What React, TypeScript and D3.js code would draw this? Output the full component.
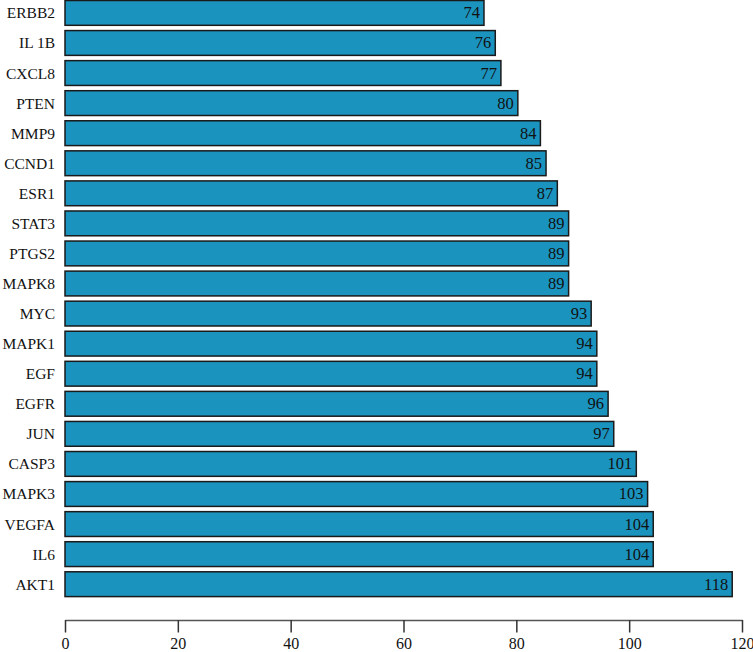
import React, { useEffect, useRef } from "react";
import * as d3 from "d3";

const genes = [
  "ERBB2", "IL 1B", "CXCL8", "PTEN", "MMP9", "CCND1", "ESR1", "STAT3", "PTGS2", "MAPK8",
  "MYC", "MAPK1", "EGF", "EGFR", "JUN", "CASP3", "MAPK3", "VEGFA", "IL6", "AKT1",
];
const degrees = [74, 76, 77, 80, 84, 85, 87, 89, 89, 89, 93, 94, 94, 96, 97, 101, 103, 104, 104, 118];
const xTicks = [0, 20, 40, 60, 80, 100, 120];

const App = () => {
  const ref = useRef<SVGSVGElement>(null);

  useEffect(() => {
    const svg = d3.select(ref.current);
    svg.selectAll("*").remove();
    const font = "'Liberation Serif', 'Times New Roman', serif";

    const x = d3.scaleLinear().domain([0, 120]).range([65, 742]);
    const y = d3
      .scaleBand()
      .domain(genes)
      .range([0.5, 596.6])
      .paddingInner(0.175)
      .paddingOuter(0);

    const data = genes.map((g, i) => ({ gene: g, value: degrees[i] }));

    svg
      .selectAll(".bar")
      .data(data)
      .join("rect")
      .attr("class", "bar")
      .attr("x", x(0))
      .attr("y", (d) => y(d.gene)!)
      .attr("width", (d) => x(d.value) - x(0) + 1.5)
      .attr("height", y.bandwidth())
      .attr("fill", "#1b93bf")
      .attr("stroke", "#1a1a1a")
      .attr("stroke-width", 1.5);

    svg
      .selectAll(".val")
      .data(data)
      .join("text")
      .attr("class", "val")
      .attr("x", (d) => x(d.value) - 2.5)
      .attr("y", (d) => y(d.gene)! + y.bandwidth() / 2 + 5.5)
      .attr("text-anchor", "end")
      .attr("font-family", font)
      .attr("font-size", 16.5)
      .attr("fill", "#111")
      .text((d) => d.value);

    svg
      .selectAll(".cat")
      .data(data)
      .join("text")
      .attr("class", "cat")
      .attr("x", 55)
      .attr("y", (d) => y(d.gene)! + y.bandwidth() / 2 + 5.5)
      .attr("text-anchor", "end")
      .attr("font-family", font)
      .attr("font-size", 15.5)
      .attr("fill", "#111")
      .text((d) => d.gene);

    const axis = svg
      .append("g")
      .attr("transform", "translate(0, 620)")
      .call(d3.axisBottom(x).tickValues(xTicks).tickSize(12.5).tickPadding(5).tickSizeOuter(0));
    axis.select(".domain").attr("stroke", "#555").attr("stroke-width", 1.5);
    axis.selectAll(".tick line").attr("stroke", "#333").attr("stroke-width", 1.5);
    axis
      .selectAll(".tick text")
      .attr("font-family", font)
      .attr("font-size", 16)
      .attr("fill", "#111");
  }, []);

  return (
    <svg
      ref={ref}
      width={753}
      height={652}
      style={{ position: "absolute", left: 0, top: 0, background: "#fff" }}
    />
  );
};

export default App;
